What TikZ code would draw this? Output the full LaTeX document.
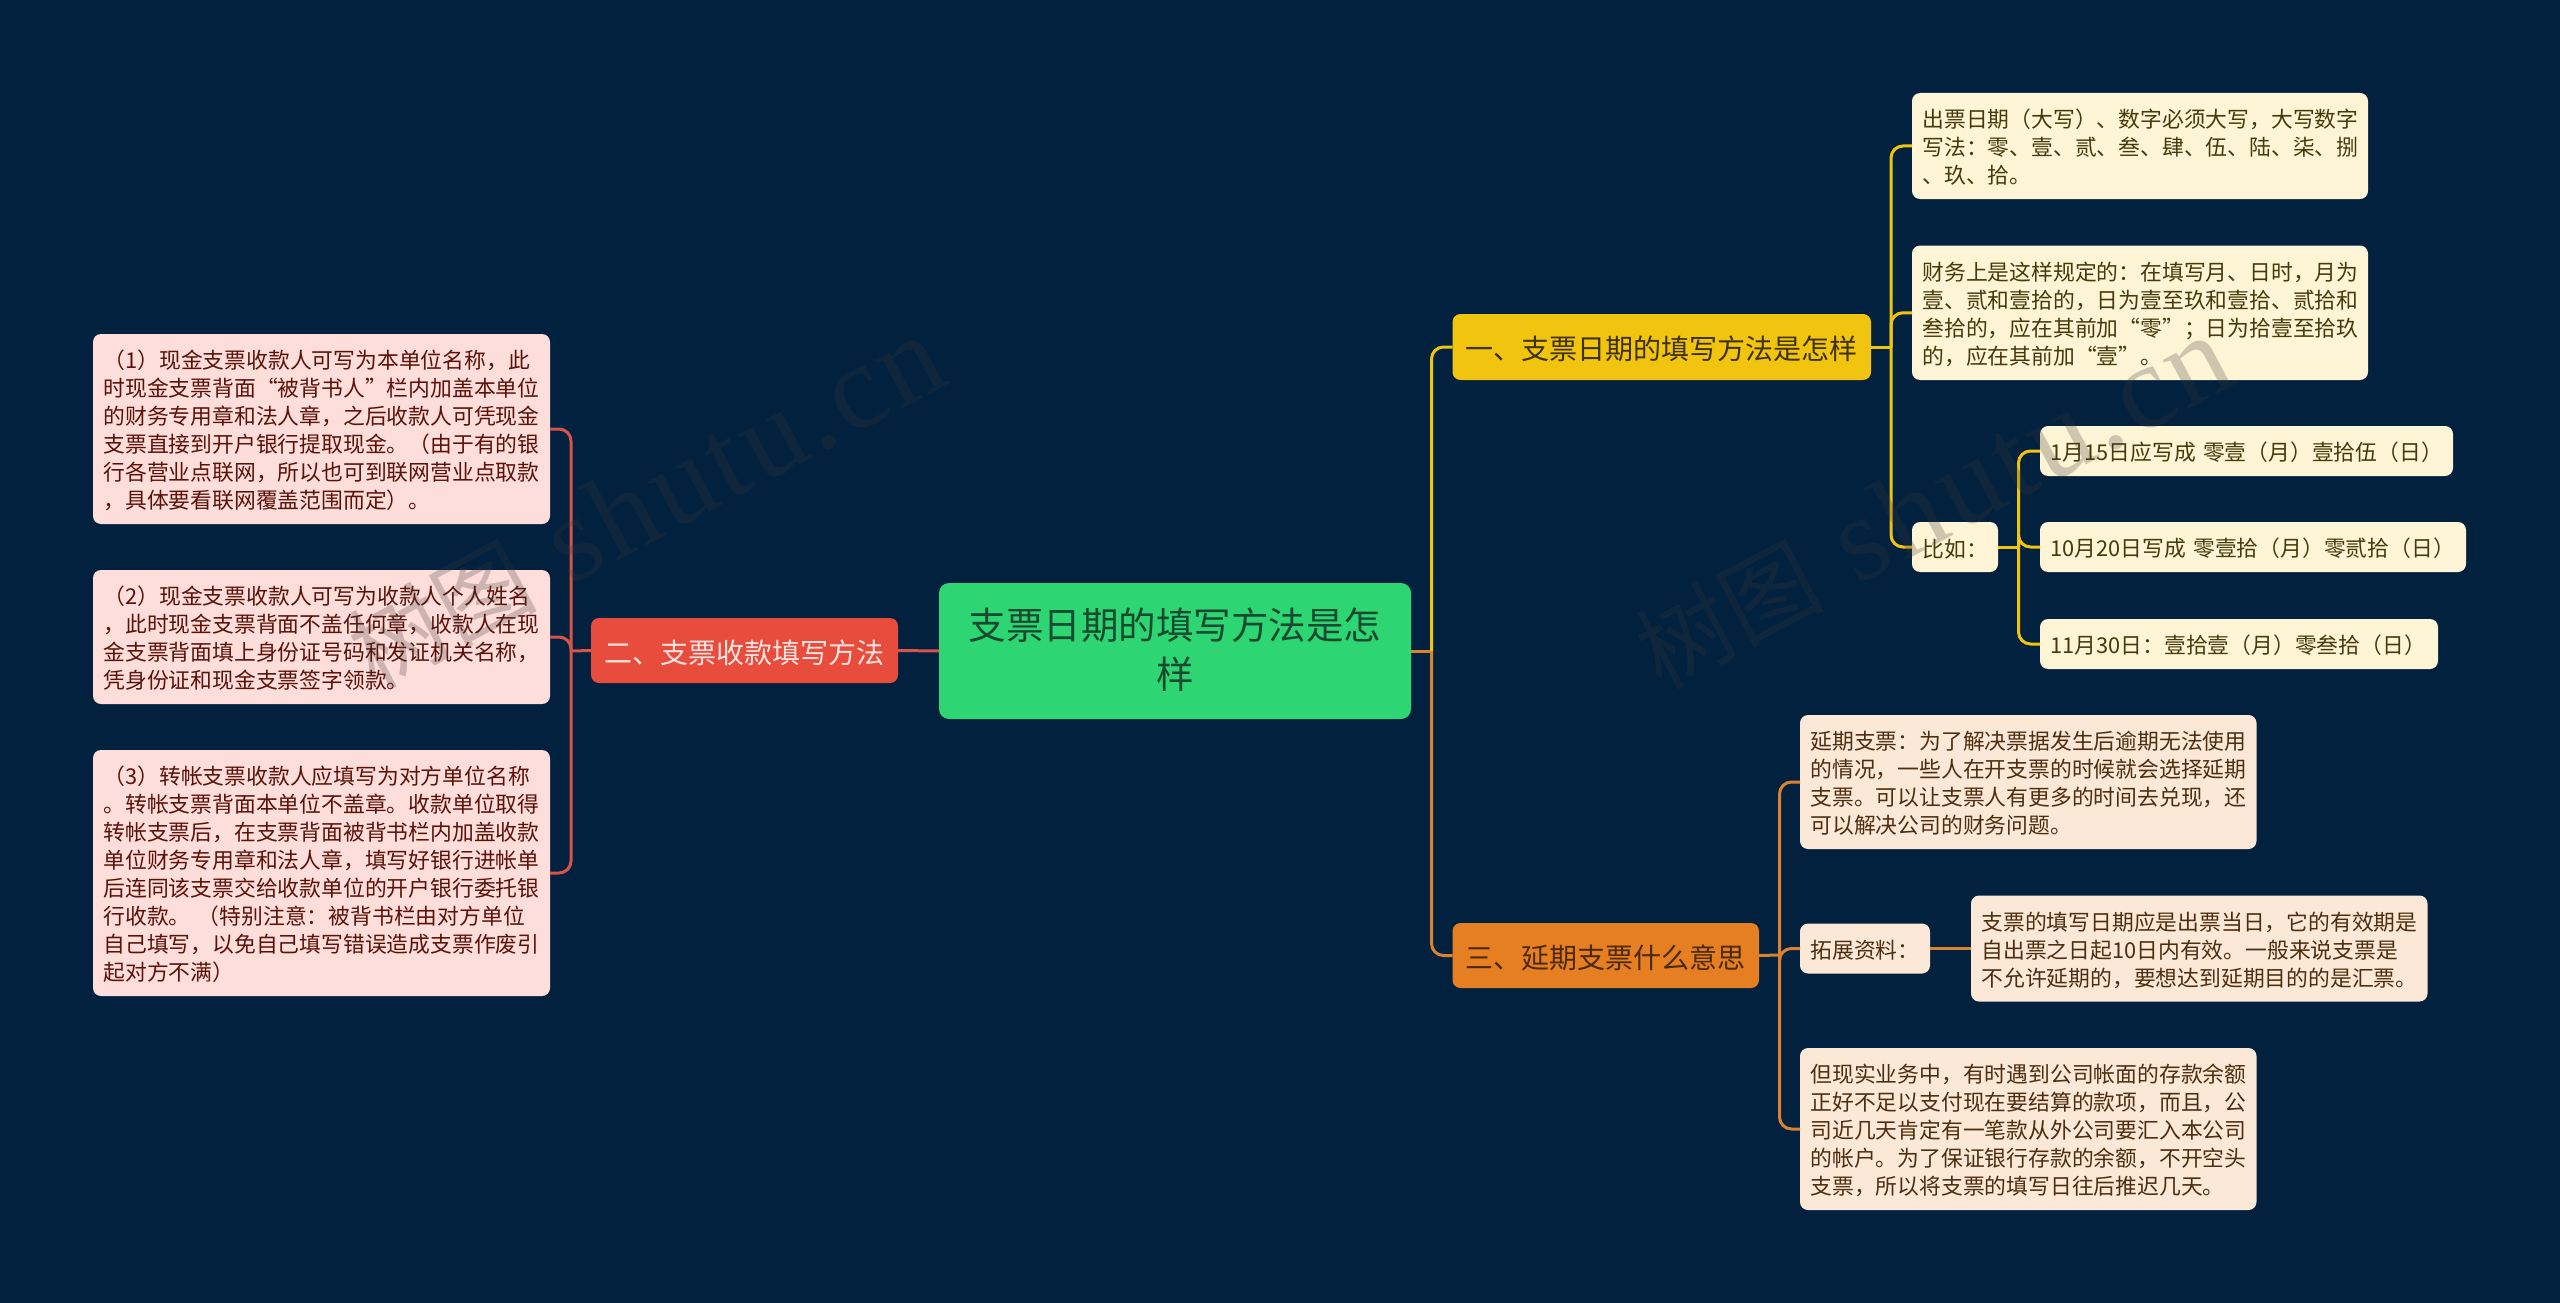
\documentclass[tikz,border=0pt]{standalone}
\usepackage{fontspec}
\setmainfont{Noto Sans CJK SC}
\newfontfamily\wmlatin[LetterSpace=3.5]{Liberation Serif}
\definecolor{bgc}{HTML}{01213F}
\definecolor{greenf}{HTML}{2ED573}
\definecolor{greent}{HTML}{174A2E}
\definecolor{yelf}{HTML}{F1C40F}
\definecolor{yelt}{HTML}{3E3205}
\definecolor{redf}{HTML}{E74C3C}
\definecolor{redt}{HTML}{FDE3E0}
\definecolor{oraf}{HTML}{E67E22}
\definecolor{orat}{HTML}{4A2A08}
\definecolor{pinkf}{HTML}{FDDEDA}
\definecolor{pinkt}{HTML}{5C1209}
\definecolor{creamf}{HTML}{FDF5D6}
\definecolor{creamt}{HTML}{47390A}
\definecolor{peachf}{HTML}{FBE8D7}
\definecolor{peacht}{HTML}{4E2E10}
\definecolor{redl}{HTML}{D9534A}
\definecolor{yell}{HTML}{F1C40F}
\definecolor{oral}{HTML}{D9822F}
\definecolor{wmc}{HTML}{403838}
\tikzset{
  x=1pt,y=-1pt,
  box/.style={rounded corners=8pt,inner sep=0pt,outer sep=0pt,align=left,font=\fontsize{21.8}{28}\selectfont},
  pinkbox/.style={box,fill=pinkf,text=pinkt},
  creambox/.style={box,fill=creamf,text=creamt},
  peachbox/.style={box,fill=peachf,text=peacht},
  branch/.style={box,align=center,font=\fontsize{28}{36}\selectfont},
  rootbox/.style={box,rounded corners=10pt,fill=greenf,text=greent,align=center,font=\fontsize{37.5}{49.5}\selectfont},
  link/.style={line width=3pt,rounded corners=12pt},
  mark text/.style={rotate=28,wmc,opacity=.25,font=\fontsize{94}{120}\selectfont},
}
\newcommand{\bx}[7]{%
  \pgfmathsetmacro\bxw{#5-#3}\pgfmathsetmacro\bxh{#6-#4}\pgfmathsetmacro\bxt{\bxw-21}%
  \node[#1,minimum width=\bxw pt,minimum height=\bxh pt,text width=\bxt pt] (#2) at ({(#3+#5)/2},{(#4+#6)/2}) {\rule{0pt}{1em}#7};}
\newcommand{\wmtext}{树图\hspace{34pt}{\fontsize{120}{120}\wmlatin shutu.cn}}
\begin{document}
\begin{tikzpicture}
\useasboundingbox (0,0) rectangle (2560,1303);
\fill[bgc] (0,0) rectangle (2560,1303);

\coordinate (busL) at (571,651);
\coordinate (busM) at (1431.5,651);
\coordinate (busY) at (1891,347);
\coordinate (busC) at (2018.5,547);
\coordinate (busO) at (1779.5,955);

\node[rootbox,minimum width=472pt,minimum height=136pt,text width=451pt] (root) at (1175,651) {支票日期的填写方法是怎\\样\rule[-.14em]{0pt}{0pt}};
\bx{branch,fill=redf,text=redt}{rb}{591}{618}{898}{683}{二、支票收款填写方法}
\bx{branch,fill=yelf,text=yelt}{yb}{1452.5}{314}{1871}{380}{一、支票日期的填写方法是怎样}
\bx{branch,fill=oraf,text=orat}{ob}{1452.5}{923}{1759}{988}{三、延期支票什么意思}

\bx{pinkbox}{l1}{93}{334}{550}{524}{（1）现金支票收款人可写为本单位名称，此\\时现金支票背面“被背书人”栏内加盖本单位\\的财务专用章和法人章，之后收款人可凭现金\\支票直接到开户银行提取现金。（由于有的银\\行各营业点联网，所以也可到联网营业点取款\\，具体要看联网覆盖范围而定）。}
\bx{pinkbox}{l2}{93}{570}{550}{704}{（2）现金支票收款人可写为收款人个人姓名\\，此时现金支票背面不盖任何章，收款人在现\\金支票背面填上身份证号码和发证机关名称，\\凭身份证和现金支票签字领款。}
\bx{pinkbox}{l3}{93}{750}{550}{996}{（3）转帐支票收款人应填写为对方单位名称\\。转帐支票背面本单位不盖章。收款单位取得\\转帐支票后，在支票背面被背书栏内加盖收款\\单位财务专用章和法人章，填写好银行进帐单\\后连同该支票交给收款单位的开户银行委托银\\行收款。~（特别注意：被背书栏由对方单位\\自己填写，以免自己填写错误造成支票作废引\\起对方不满）}

\bx{creambox}{y1}{1912}{93}{2368}{199}{出票日期（大写）、数字必须大写，大写数字\\写法：零、壹、贰、叁、肆、伍、陆、柒、捌\\、玖、拾。}
\bx{creambox}{y2}{1912}{245.5}{2368}{380}{财务上是这样规定的：在填写月、日时，月为\\壹、贰和壹拾的，日为壹至玖和壹拾、贰拾和\\叁拾的，应在其前加“零”；日为拾壹至拾玖\\的，应在其前加“壹”。}
\bx{creambox}{y3}{1912}{522}{1998}{572}{比如：}
\bx{creambox}{c1}{2040}{426}{2453}{476}{1月15日应写成~零壹（月）壹拾伍（日）}
\bx{creambox}{c2}{2040}{522}{2466}{572}{10月20日写成~零壹拾（月）零贰拾（日）}
\bx{creambox}{c3}{2040}{619}{2438}{669}{11月30日：壹拾壹（月）零叁拾（日）}

\bx{peachbox}{o1}{1800}{715}{2256.5}{849}{延期支票：为了解决票据发生后逾期无法使用\\的情况，一些人在开支票的时候就会选择延期\\支票。可以让支票人有更多的时间去兑现，还\\可以解决公司的财务问题。}
\bx{peachbox}{o2}{1800}{923.5}{1930}{973.5}{拓展资料：}
\bx{peachbox}{o2c}{1971}{895.5}{2427.5}{1001.5}{支票的填写日期应是出票当日，它的有效期是\\自出票之日起10日内有效。一般来说支票是\\不允许延期的，要想达到延期目的的是汇票。}
\bx{peachbox}{o3}{1800}{1048}{2256.5}{1210}{但现实业务中，有时遇到公司帐面的存款余额\\正好不足以支付现在要结算的款项，而且，公\\司近几天肯定有一笔款从外公司要汇入本公司\\的帐户。为了保证银行存款的余额，不开空头\\支票，所以将支票的填写日往后推迟几天。}

\draw[link,redl] (root.west) -- (rb.east);
\draw[link,redl] (rb.west) -- (busL);
\draw[link,redl] (busL) |- (l1.east);
\draw[link,redl] (busL) |- (l2.east);
\draw[link,redl] (busL) |- (l3.east);

\draw[link,oral] (root.east) -- (busM);
\draw[link,oral] (busM) |- (ob.west);
\draw[link,yell] (busM) |- (yb.west);

\draw[link,yell] (yb.east) -- (busY);
\draw[link,yell] (busY) |- (y1.west);
\draw[link,yell] (busY) |- (y2.west);
\draw[link,yell] (busY) |- (y3.west);
\draw[link,yell] (y3.east) -- (busC);
\draw[link,yell] (busC) |- (c1.west);
\draw[link,yell] (busC) |- (c2.west);
\draw[link,yell] (busC) |- (c3.west);

\draw[link,oral] (ob.east) -- (busO);
\draw[link,oral] (busO) |- (o1.west);
\draw[link,oral] (busO) |- (o2.west);
\draw[link,oral] (busO) |- (o3.west);
\draw[link,oral] (o2.east) -- (o2c.west);

\node[mark text] (wm1) at (646,503) {\wmtext};
\node[mark text] (wm2) at (1933,503) {\wmtext};
\end{tikzpicture}
\end{document}
